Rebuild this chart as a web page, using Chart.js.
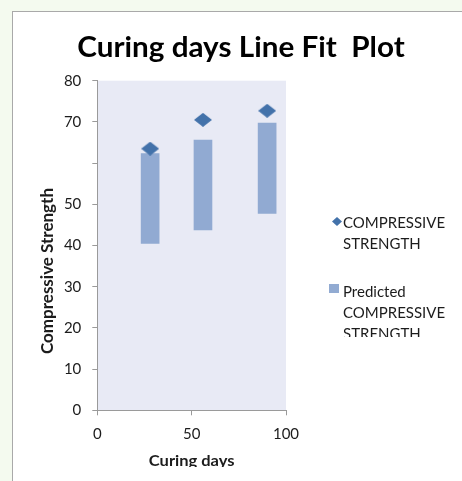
<!DOCTYPE html>
<html>
<head>
<meta charset="utf-8">
<script src="https://cdn.jsdelivr.net/npm/chart.js@4"></script>
<style>
  html, body { margin: 0; padding: 0; }
  body { width: 462px; height: 481px; background: #f4faef; position: relative; overflow: hidden; }
  #frame { position: absolute; left: 12px; top: 11px; width: 450px; height: 470px; background: #ffffff;
           border-left: 1px solid #a9a9a9; border-top: 1px solid #a9a9a9; }
  canvas { display: block; }
</style>
</head>
<body>
<div id="frame"><canvas id="chart" width="449" height="455"></canvas></div>
<script>
// Curing age (days) and measured compressive strength
const curingDays = [28, 56, 90];
const compressiveStrength = [63.5, 70.5, 72.7];
// Spread of predicted compressive strength at each curing age
const predictedLow = [40.5, 43.8, 47.8];
const predictedHigh = [62.3, 65.6, 69.7];
// Axis ticks
const xTickValues = [0, 50, 100];
const yTickLabels = ['0', '10', '20', '30', '40', '50', '', '70', '80'];

const FONT = 'Lato, "Open Sans", sans-serif';
const TEXT = '#1c1c1c';
const AXIS = '#9a9a9a';
const DIAMOND = '#4372aa';
const PRED = 'rgba(140,166,208,0.95)';

// Slightly squat diamond marker
function makeDiamond(w, h) {
  const c = document.createElement('canvas');
  c.width = w; c.height = h;
  const g = c.getContext('2d');
  g.fillStyle = DIAMOND;
  g.beginPath();
  g.moveTo(w / 2, 0); g.lineTo(w, h / 2); g.lineTo(w / 2, h); g.lineTo(0, h / 2);
  g.closePath(); g.fill();
  return c;
}
const diamondMarker = makeDiamond(18, 14);
const legendDiamond = makeDiamond(10, 9);

const plotBackground = {
  id: 'plotBackground',
  beforeDraw(chart) {
    const { ctx, chartArea: a } = chart;
    ctx.save();
    ctx.fillStyle = '#e8eaf5';
    ctx.fillRect(a.left, a.top, a.right - a.left, a.bottom - a.top);
    ctx.restore();
  }
};

// Chart title and axis titles, drawn with a slight horizontal stretch
const titles = {
  id: 'titles',
  afterDraw(chart) {
    const { ctx, chartArea: a } = chart;
    ctx.save();
    ctx.fillStyle = '#000';
    ctx.textAlign = 'center';
    ctx.textBaseline = 'alphabetic';
    ctx.font = 'bold 28px ' + FONT;
    ctx.translate(228, 45);
    ctx.scale(1.06, 1);
    ctx.fillText('Curing days Line Fit  Plot', 0, 0);
    ctx.restore();

    ctx.save();
    ctx.fillStyle = TEXT;
    ctx.textAlign = 'center';
    ctx.textBaseline = 'middle';
    ctx.font = 'bold 15px ' + FONT;
    ctx.translate((a.left + a.right) / 2, a.bottom + 51);
    ctx.scale(1.1, 1);
    ctx.fillText('Curing days', 0, 0);
    ctx.restore();

    ctx.save();
    ctx.fillStyle = TEXT;
    ctx.textAlign = 'center';
    ctx.textBaseline = 'middle';
    ctx.font = 'bold 17px ' + FONT;
    ctx.translate(35, 259);
    ctx.rotate(-Math.PI / 2);
    ctx.fillText('Compressive Strength', 0, 0);
    ctx.restore();
  }
};

const sideLegend = {
  id: 'sideLegend',
  afterDraw(chart) {
    const { ctx, chartArea: a } = chart;
    const x0 = a.right;
    ctx.save();
    ctx.beginPath();
    ctx.rect(x0, 0, chart.width - x0, 325);
    ctx.clip();
    ctx.fillStyle = TEXT;
    ctx.font = '15px ' + FONT;
    ctx.textAlign = 'left';
    ctx.textBaseline = 'middle';
    const tx = x0 + 57;
    ctx.drawImage(legendDiamond, x0 + 46, 205);
    ctx.fillText('COMPRESSIVE', tx, 211);
    ctx.fillText('STRENGTH', tx, 232);
    ctx.fillStyle = PRED;
    ctx.fillRect(x0 + 43, 272, 10, 9);
    ctx.fillStyle = TEXT;
    ctx.fillText('Predicted', tx, 280);
    ctx.fillText('COMPRESSIVE', tx, 301);
    ctx.fillText('STRENGTH', tx, 322);
    ctx.restore();
  }
};

new Chart(document.getElementById('chart'), {
  type: 'bar',
  data: {
    datasets: [
      {
        type: 'scatter',
        label: 'COMPRESSIVE STRENGTH',
        data: curingDays.map((d, i) => ({ x: d, y: compressiveStrength[i] })),
        pointStyle: diamondMarker,
        pointRadius: 9,
        showLine: false,
        order: 0
      },
      {
        type: 'bar',
        label: 'Predicted COMPRESSIVE STRENGTH',
        data: curingDays.map((d, i) => ({ x: d, y: [predictedLow[i], predictedHigh[i]] })),
        backgroundColor: PRED,
        borderWidth: 0,
        barThickness: 18,
        order: 1
      }
    ]
  },
  options: {
    responsive: false,
    animation: false,
    devicePixelRatio: 1,
    layout: { padding: { left: 0, right: 176, top: 68.7, bottom: 0 } },
    plugins: {
      legend: { display: false },
      tooltip: { enabled: false },
      title: { display: false }
    },
    scales: {
      x: {
        type: 'linear',
        min: 0, max: 100,
        offset: false,
        afterBuildTicks(s) { s.ticks = xTickValues.map(v => ({ value: v })); },
        ticks: { color: TEXT, font: { family: FONT, size: 15 }, padding: 10, maxRotation: 0 },
        grid: { offset: false, drawOnChartArea: false, drawTicks: true, tickLength: 5, color: AXIS },
        border: { color: AXIS },
        afterFit(s) { s.height = 56.7; }
      },
      y: {
        min: 0, max: 80,
        ticks: {
          stepSize: 10,
          color: TEXT,
          font: { family: FONT, size: 15 },
          padding: 11,
          callback: (v) => yTickLabels[Math.round(v / 10)]
        },
        grid: { drawOnChartArea: false, drawTicks: true, tickLength: 5, color: AXIS },
        border: { color: AXIS },
        afterFit(s) { s.width = 84.3; }
      }
    }
  },
  plugins: [plotBackground, titles, sideLegend]
});
</script>
</body>
</html>
